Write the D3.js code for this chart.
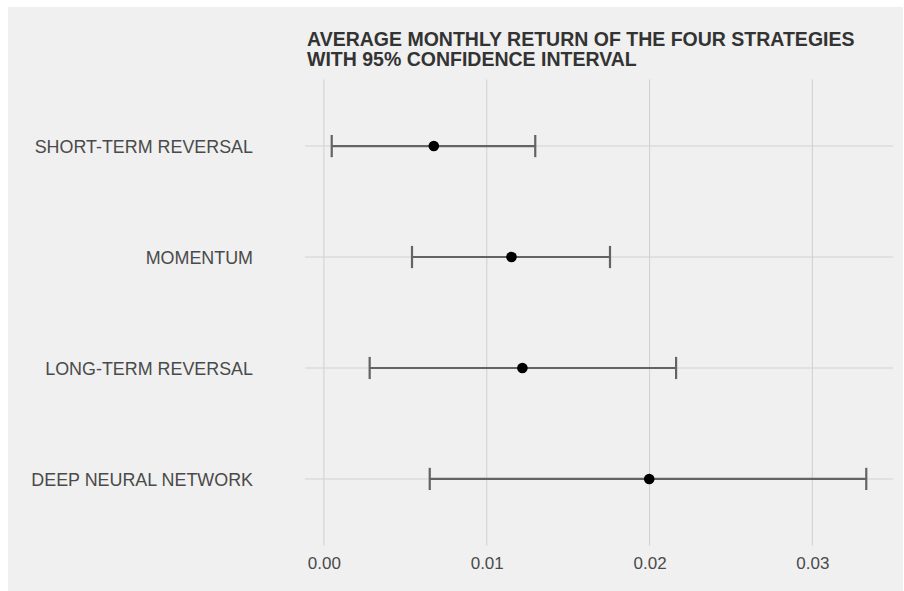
<!DOCTYPE html>
<html>
<head>
<meta charset="utf-8">
<script src="https://cdn.jsdelivr.net/npm/d3@7"></script>
<style>
  html, body { margin: 0; padding: 0; background: #ffffff; }
  svg { display: block; }
</style>
</head>
<body>
<svg id="chart" width="904" height="591"></svg>
<script>
// Strategies, top to bottom
const strategies = ["SHORT-TERM REVERSAL", "MOMENTUM", "LONG-TERM REVERSAL", "DEEP NEURAL NETWORK"];
// Average monthly return and 95% confidence bounds
const meanReturn = [0.00675, 0.01152, 0.01219, 0.01998];
const lowerBound = [0.00048, 0.00541, 0.00281, 0.00650];
const upperBound = [0.01298, 0.01757, 0.02163, 0.03331];
const xTicks = [0.00, 0.01, 0.02, 0.03];
const titleLines = ["AVERAGE MONTHLY RETURN OF THE FOUR STRATEGIES", "WITH 95% CONFIDENCE INTERVAL"];

const svg = d3.select("#chart");
const W = 904, H = 591;

// background panel
svg.append("rect").attr("x", 8).attr("y", 7).attr("width", 895).attr("height", H - 7)
  .attr("fill", "#f0f0f0");

const panel = { left: 305, right: 893, top: 79.5, bottom: 545.5 };

// x: data range with 5% padding on each side
const lo = d3.min(lowerBound), hi = d3.max(upperBound);
const pad = (hi - lo) * 0.05;
const x = d3.scaleLinear().domain([lo - pad, hi + pad]).range([panel.left, panel.right]);

// y: discrete positions with 0.6 unit padding
const y = d3.scalePoint().domain(strategies).range([panel.top, panel.bottom]).padding(0.6);
const band = y.step();

const g = svg.append("g");

// vertical grid
g.selectAll("line.vgrid").data(xTicks).join("line")
  .attr("x1", d => x(d)).attr("x2", d => x(d))
  .attr("y1", panel.top).attr("y2", panel.bottom)
  .attr("stroke", "#d2d2d2").attr("stroke-width", 1.1);

// horizontal grid
g.selectAll("line.hgrid").data(strategies).join("line")
  .attr("x1", panel.left).attr("x2", panel.right)
  .attr("y1", d => y(d)).attr("y2", d => y(d))
  .attr("stroke", "#d2d2d2").attr("stroke-width", 1.1);

const rows = strategies.map((s, i) => ({ s, m: meanReturn[i], l: lowerBound[i], u: upperBound[i] }));

// error bars
const capH = band * 0.2 / 2;
const eb = g.selectAll("g.eb").data(rows).join("g");
eb.append("line")
  .attr("x1", d => x(d.l)).attr("x2", d => x(d.u))
  .attr("y1", d => y(d.s)).attr("y2", d => y(d.s))
  .attr("stroke", "#636363").attr("stroke-width", 2.2);
eb.append("line")
  .attr("x1", d => x(d.l)).attr("x2", d => x(d.l))
  .attr("y1", d => y(d.s) - capH).attr("y2", d => y(d.s) + capH)
  .attr("stroke", "#636363").attr("stroke-width", 2.2);
eb.append("line")
  .attr("x1", d => x(d.u)).attr("x2", d => x(d.u))
  .attr("y1", d => y(d.s) - capH).attr("y2", d => y(d.s) + capH)
  .attr("stroke", "#636363").attr("stroke-width", 2.2);

// mean points
g.selectAll("circle").data(rows).join("circle")
  .attr("cx", d => x(d.m)).attr("cy", d => y(d.s)).attr("r", 5.3)
  .attr("fill", "#000");

// x axis labels
const xAxis = d3.axisBottom(x).tickValues(xTicks).tickFormat(d3.format(".2f")).tickSize(0).tickPadding(0);
const xa = svg.append("g").attr("transform", `translate(0,${panel.bottom})`).call(xAxis);
xa.select(".domain").remove();
xa.selectAll("text")
  .attr("y", 0).attr("dy", 0).attr("transform", "translate(0,23.5)")
  .attr("font-family", "Liberation Sans, Arial, sans-serif")
  .attr("font-size", 17).attr("fill", "#4a4a4a");

// y axis labels
const yAxis = d3.axisLeft(y).tickSize(0).tickPadding(0);
const ya = svg.append("g").attr("transform", `translate(${panel.left - 52},0)`).call(yAxis);
ya.select(".domain").remove();
ya.selectAll("text")
  .attr("dy", "0.35em")
  .attr("font-family", "Liberation Sans, Arial, sans-serif")
  .attr("font-size", 17.9).attr("fill", "#4a4a4a");

// title
svg.append("text")
  .attr("x", 307).attr("y", 46)
  .attr("font-family", "Liberation Sans, Arial, sans-serif")
  .attr("font-weight", "bold").attr("font-size", 19.5).attr("fill", "#333333")
  .selectAll("tspan").data(titleLines).join("tspan")
  .attr("x", 307).attr("dy", (d, i) => i === 0 ? 0 : 20)
  .text(d => d);
</script>
</body>
</html>
